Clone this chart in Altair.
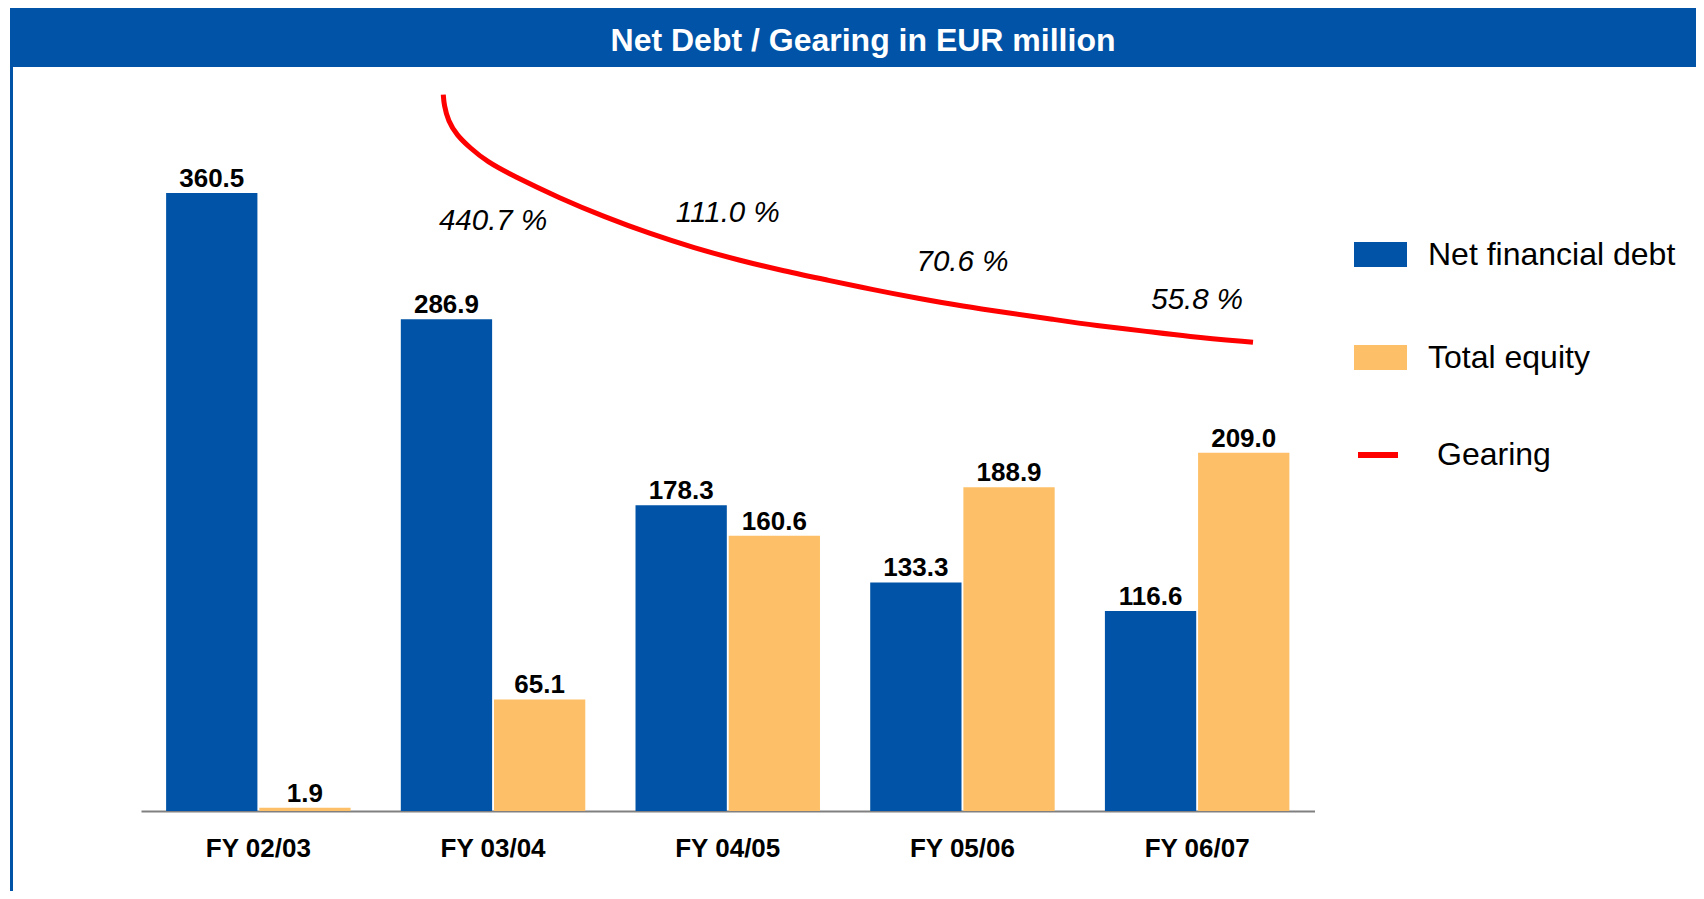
import altair as alt
import pandas as pd

# ---------------- data ----------------
categories = ["FY 02/03", "FY 03/04", "FY 04/05", "FY 05/06", "FY 06/07"]
series_names = ["Net financial debt", "Total equity"]
net_debt = [360.5, 286.9, 178.3, 133.3, 116.6]
total_equity = [1.9, 65.1, 160.6, 188.9, 209.0]

gearing_years = ["FY 03/04", "FY 04/05", "FY 05/06", "FY 06/07"]
gearing = [440.7, 111.0, 70.6, 55.8]
# where the gearing labels sit (hidden 0-100 scale, as drawn)
gearing_label_level = [81.9, 83.0, 76.2, 71.0]

# decorative gearing curve as drawn (position in year slots, hidden 0-100 level)
curve_pos = [1.288, 1.291, 1.309, 1.345, 1.402, 1.473, 1.586, 1.785, 1.976, 2.167,
             2.357, 2.548, 2.739, 2.930, 3.120, 3.311, 3.502, 3.692, 3.883, 4.073,
             4.265, 4.456, 4.738]
curve_level = [99.5, 98.1, 95.8, 93.9, 92.1, 90.2, 88.2, 85.1, 82.5, 80.2,
               78.2, 76.5, 75.0, 73.7, 72.4, 71.2, 70.1, 69.2, 68.3, 67.4,
               66.7, 65.9, 65.1]

title_text = "Net Debt / Gearing in EUR million"

BLUE = "#0053A6"
ORANGE = "#FDC068"
RED = "#FF0000"
FONT = "Liberation Sans"

# ---------------- tables ----------------
bars_df = pd.DataFrame(
    [{"year": c, "series": series_names[0], "value": v} for c, v in zip(categories, net_debt)]
    + [{"year": c, "series": series_names[1], "value": v} for c, v in zip(categories, total_equity)]
)
curve_df = pd.DataFrame({"pos": curve_pos, "level": curve_level, "series": "Gearing"})
glab_df = pd.DataFrame({
    "pos": [categories.index(y) + 0.5 for y in gearing_years],
    "level": gearing_label_level,
    "label": [f"{g:.1f} %" for g in gearing],
})

W, H = 1173.5, 720

# ---------------- bars ----------------
xenc = alt.X("year:N", sort=categories,
             scale=alt.Scale(paddingInner=0.214, paddingOuter=0.107),
             axis=alt.Axis(title=None, labelAngle=0, labelFontSize=26, labelFont=FONT,
                           labelFontWeight="bold", labelColor="#000000", ticks=False,
                           tickSize=0, labelPadding=24, domainColor="#808080",
                           domainWidth=2, grid=False))
yenc = alt.Y("value:Q", scale=alt.Scale(domain=[0, 420], nice=False, zero=True), axis=None)
xoff = alt.XOffset("series:N", sort=series_names, scale=alt.Scale(paddingInner=0.02, paddingOuter=0))

bars = alt.Chart(bars_df).mark_bar(stroke=None).encode(
    x=xenc, y=yenc, xOffset=xoff,
    color=alt.Color("series:N", scale=alt.Scale(domain=series_names, range=[BLUE, ORANGE]),
                    legend=alt.Legend(orient="none", legendX=1213, legendY=137, title=None,
                                      symbolType="M-1,-0.472H1V0.472H-1Z", symbolSize=2809,
                                      symbolStrokeWidth=0, labelFontSize=32, labelFont=FONT,
                                      labelColor="#000000", labelOffset=21, rowPadding=60,
                                      labelLimit=0)),
)
bar_text = alt.Chart(bars_df).mark_text(
    fontSize=26, fontWeight="bold", font=FONT, color="#000000",
    baseline="alphabetic", dy=-6,
).encode(x=xenc, y=yenc, xOffset=xoff, text=alt.Text("value:Q", format=".1f"))

bar_layer = alt.layer(bars, bar_text)

# ---------------- gearing curve ----------------
gx = alt.X("pos:Q", scale=alt.Scale(domain=[0, 5], nice=False, zero=False), axis=None)
gy = alt.Y("level:Q", scale=alt.Scale(domain=[0, 100], nice=False), axis=None)
curve = alt.Chart(curve_df).mark_line(strokeWidth=5, interpolate="basis").encode(
    x=gx, y=gy,
    stroke=alt.Stroke("series:N", scale=alt.Scale(domain=["Gearing"], range=[RED]),
                      legend=alt.Legend(orient="none", legendX=1214, legendY=341, title=None,
                                        symbolType="stroke", symbolSize=1600,
                                        symbolStrokeWidth=6, labelFontSize=32, labelFont=FONT,
                                        labelColor="#000000", labelOffset=36, labelLimit=0)),
)
glabels = alt.Chart(glab_df).mark_text(
    fontSize=29.5, fontStyle="italic", font=FONT, color="#000000", baseline="middle",
).encode(x=gx, y=gy, text="label:N")
gear_layer = alt.layer(curve, glabels)

# ---------------- frame: title band and left border ----------------
frame_df = pd.DataFrame({"t": [title_text]})
band = alt.Chart(frame_df).mark_rect(color=BLUE).encode(
    x=alt.value(-131), x2=alt.value(1560), y=alt.value(-90), y2=alt.value(-24))
border = alt.Chart(frame_df).mark_rect(color=BLUE).encode(
    x=alt.value(-131), x2=alt.value(-128), y=alt.value(-24), y2=alt.value(800))
title = alt.Chart(frame_df).mark_text(
    color="#FFFFFF", fontSize=32, fontWeight="bold", font=FONT, baseline="middle", align="center"
).encode(x=alt.value(722), y=alt.value(-50), text="t:N")

chart = alt.layer(band, border, title, bar_layer, gear_layer).resolve_scale(
    x="independent", y="independent", color="independent", stroke="independent"
).properties(
    width=W, height=H,
    autosize=alt.AutoSizeParams(type="none"),
    padding={"left": 133, "top": 83, "right": 381, "bottom": 80},
).configure_view(stroke=None)

chart.save("out.html", embed_options={"renderer": "svg", "actions": False})
